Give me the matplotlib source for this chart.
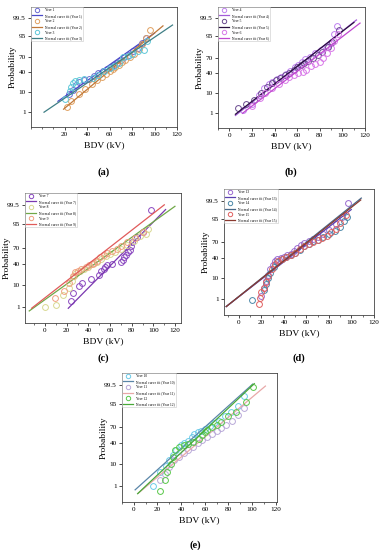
import matplotlib
matplotlib.use("Agg")
import matplotlib.pyplot as plt
from statistics import NormalDist

plt.rcParams['font.family'] = ['Liberation Serif', 'DejaVu Serif']

W, H = 387, 550
nd = NormalDist()

def z(p):
    # probability (%) -> normal quantile
    return nd.inv_cdf(p / 100.0)

# ---------------- data (BDV in kV, cumulative probability in %) ----------------
# panel (a)
y1_x = [24, 27, 30, 33, 37, 42, 46, 50, 54, 58, 61, 64, 67, 70, 73, 77, 81, 85, 89, 92]
y1_p = [8, 12, 18, 22, 26, 28, 33, 38, 43, 47, 52, 56, 60, 65, 70, 74, 80, 85, 90, 94]
y2_x = [22, 26, 33, 38, 44, 49, 53, 57, 60, 63, 65, 68, 71, 74, 78, 82, 86, 89, 92, 96]
y2_p = [2, 4, 8, 13, 20, 26, 31, 37, 42, 46, 51, 56, 61, 66, 71, 76, 83, 89, 94, 97.5]
y3_x = [20, 25, 26, 27, 29, 33, 37, 45, 50, 55, 60, 64, 68, 72, 76, 80, 85, 91, 93]
y3_p = [5, 11, 15, 21, 24, 25, 27, 30, 35, 42, 48, 53, 60, 71, 72, 76, 80, 82, 92]
# panel (b)
y4_x = [12, 20, 26, 31, 35, 38, 42, 46, 50, 54, 58, 61, 64, 67, 71, 76, 81, 86, 90, 93, 95]
y4_p = [1.5, 3, 8, 15, 20, 24, 28, 32, 37, 43, 52, 57, 62, 67, 72, 78, 82, 86, 90, 96, 98.5]
y5_x = [8, 15, 22, 28, 33, 38, 41, 45, 49, 53, 57, 60, 63, 66, 70, 74, 78, 82, 87, 91, 97]
y5_p = [2, 3, 5, 10, 16, 22, 26, 30, 35, 40, 46, 52, 56, 60, 65, 70, 75, 80, 86, 91, 97.5]
y6_x = [20, 27, 32, 38, 44, 49, 53, 57, 61, 65, 68, 72, 76, 80, 83, 86, 90, 93, 96]
y6_p = [2.5, 6, 10, 15, 20, 26, 32, 36, 40, 42, 46, 55, 58, 62, 70, 78, 85, 92, 96]
# panel (c)
y7_x = [24, 26, 31, 34, 42, 50, 52, 54, 55, 57, 62, 70, 72, 73, 75, 77, 78, 79, 80, 85, 90, 98]
y7_p = [2, 5, 9, 12, 16, 22, 27, 31, 34, 37, 40, 44, 48, 52, 56, 62, 66, 72, 78, 85, 90, 99]
y8_x = [0, 10, 17, 22, 25, 27, 29, 32, 36, 40, 44, 48, 52, 56, 60, 65, 70, 76, 82, 88, 93, 95]
y8_p = [1, 1.2, 4, 8, 14, 20, 25, 28, 31, 35, 39, 44, 49, 54, 58, 63, 68, 74, 80, 86, 88, 92]
y9_x = [9, 18, 22, 26, 28, 30, 33, 38, 41, 43, 45, 48, 51, 54, 57, 62, 66, 70, 76, 83, 90]
y9_p = [3, 6, 12, 20, 26, 28, 30, 34, 38, 40, 42, 46, 52, 56, 60, 64, 68, 72, 78, 84, 90]
# panel (d)
y13_x = [20, 22, 24, 26, 28, 30, 32, 34, 37, 40, 43, 46, 49, 52, 55, 58, 62, 66, 70, 75, 80, 86, 92, 97]
y13_p = [1.5, 4, 8, 13, 20, 27, 33, 37, 40, 42, 45, 48, 52, 58, 64, 68, 72, 75, 78, 82, 87, 92, 96, 99.3]
y14_x = [12, 22, 24, 26, 28, 31, 34, 38, 42, 46, 50, 54, 58, 62, 66, 70, 75, 80, 85, 90, 93, 96]
y14_p = [0.9, 3, 6, 10, 16, 24, 32, 38, 42, 45, 49, 55, 62, 67, 71, 74, 78, 82, 86, 90, 94, 96]
y15_x = [18, 19, 20, 22, 24, 26, 29, 32, 35, 38, 42, 46, 50, 54, 58, 62, 66, 70, 74, 78, 82, 86, 90, 95]
y15_p = [0.5, 1.2, 2.5, 4, 7, 12, 20, 28, 34, 38, 42, 46, 50, 56, 62, 66, 70, 73, 76, 80, 84, 88, 93, 97]
# panel (e)
y10_x = [16, 22, 27, 30, 33, 36, 40, 42, 46, 49, 51, 54, 57, 60, 64, 68, 72, 77, 82, 88, 93]
y10_p = [1, 5, 9, 14, 20, 28, 36, 40, 45, 52, 58, 61, 64, 67, 72, 76, 80, 86, 90, 94, 98]
y11_x = [22, 26, 30, 34, 38, 42, 46, 50, 54, 58, 62, 66, 70, 74, 78, 83, 88, 93]
y11_p = [2, 4, 8, 14, 18, 23, 28, 33, 40, 46, 52, 58, 64, 69, 74, 80, 87, 93]
y12_x = [22, 26, 28, 31, 33, 35, 38, 42, 46, 50, 55, 58, 60, 62, 66, 70, 74, 80, 86, 95, 101]
y12_p = [0.5, 2, 5, 10, 18, 28, 33, 36, 39, 43, 48, 55, 62, 66, 70, 74, 78, 86, 90, 96, 99.3]

# normal fits: mean, std, x range of drawn line
fit_mu = {1: 56.6, 2: 63.3, 3: 60.3, 4: 58.6, 5: 58.2, 6: 63.9, 7: 66.7, 8: 52.8, 9: 46.5,
          10: 49.8, 11: 59.1, 12: 53.1, 13: 50.6, 14: 48.5, 15: 49.3}
fit_sd = {1: 24.2, 2: 20.4, 3: 25.2, 4: 21.7, 5: 22.1, 6: 22.3, 7: 18.9, 8: 26.7, 9: 24.6,
          10: 19.4, 11: 20.7, 12: 18.5, 13: 23.1, 14: 22.3, 15: 22.6}
fit_rng = {1: (14, 100), 2: (19, 107.5), 3: (1.6, 116), 4: (5.4, 112.4), 5: (5.4, 110.2),
           6: (11.7, 115.6), 7: (21.5, 111.2), 8: (-14.5, 119.8), 9: (-12.3, 110),
           10: (1.1, 100.5), 11: (3.8, 111.2), 12: (3.2, 101.8), 13: (-11.3, 99.8),
           14: (-11.3, 108.7), 15: (-11.3, 108.2)}

# marker colour, line colour
colors = {1: ('#6a6ad0', '#4a4ac8'), 2: ('#e0a060', '#c07838'), 3: ('#5ec8d8', '#3f7f86'),
          4: ('#c080f0', '#a25ad8'), 5: ('#6a4a90', '#2a1040'), 6: ('#d878e8', '#c048d0'),
          7: ('#8a48c0', '#7a38b0'), 8: ('#d8d890', '#70a848'), 9: ('#f0a080', '#e05a5a'),
          10: ('#6ccbe8', '#5a86a8'), 11: ('#b8a8d8', '#e8a8a8'), 12: ('#58c848', '#48a838'),
          13: ('#9a6ad0', '#5a40b0'), 14: ('#4a88a8', '#486888'), 15: ('#e06060', '#8a3a30')}

series = {1: (y1_x, y1_p), 2: (y2_x, y2_p), 3: (y3_x, y3_p), 4: (y4_x, y4_p), 5: (y5_x, y5_p),
          6: (y6_x, y6_p), 7: (y7_x, y7_p), 8: (y8_x, y8_p), 9: (y9_x, y9_p), 10: (y10_x, y10_p),
          11: (y11_x, y11_p), 12: (y12_x, y12_p), 13: (y13_x, y13_p), 14: (y14_x, y14_p),
          15: (y15_x, y15_p)}

prob_ticks = [1, 10, 40, 70, 95, 99.5]
prob_labels = ['1', '10', '40', '70', '95', '99.5']

# panel: label, years, box in pixels (left, top, right, bottom), xlim, xticks, caption xy
panels = [
    ('(a)', [1, 2, 3], (31, 7, 177, 127), (0, 120), [20, 40, 60, 80, 100, 120], (104, 172)),
    ('(b)', [4, 5, 6], (218, 7, 365, 128), (0, 120), [0, 20, 40, 60, 80, 100, 120], (291, 172)),
    ('(c)', [7, 8, 9], (25, 193, 181, 323), (-18.4, 125.4), [0, 20, 40, 60, 80, 100, 120], (103, 358)),
    ('(d)', [13, 14, 15], (224, 189, 374, 315), (-13.3, 120), [0, 20, 40, 60, 80, 100, 120], (299, 358)),
    ('(e)', [10, 11, 12], (122, 373, 277, 502), (-4, 121), [0, 20, 40, 60, 80, 100, 120], (195, 545)),
]

fig = plt.figure(figsize=(W / 100, H / 100), dpi=100)

for label, years, (l, t, r, b), xlim, xt, (cx, cy) in panels:
    ax = fig.add_axes([l / W, 1 - b / H, (r - l) / W, (b - t) / H])
    for yr in years:
        xs, ps = series[yr]
        mc, lc = colors[yr]
        ax.plot(xs, [z(p) for p in ps], 'o', mfc='none', mec=mc, ms=4.2, mew=0.7,
                label='Year %d' % yr)
        x0, x1 = fit_rng[yr]
        mu, sd = fit_mu[yr], fit_sd[yr]
        ax.plot([x0, x1], [(x0 - mu) / sd, (x1 - mu) / sd], '-', color=lc, lw=0.9,
                label='Normal curve fit (Year %d)' % yr)
    ax.set_xlim(*xlim)
    ax.set_ylim(-3.1, 3.15)
    ax.set_xticks(xt)
    ax.set_xticks([v for v in range(-10, 121, 10)], minor=True)
    ax.set_yticks([z(p) for p in prob_ticks])
    ax.set_yticklabels(prob_labels)
    ax.tick_params(axis='both', which='major', labelsize=5.2, length=2.2, width=0.5, pad=1.5)
    ax.tick_params(axis='x', which='minor', length=1.3, width=0.4)
    for s in ax.spines.values():
        s.set_linewidth(0.6)
        s.set_color('#444444')
    ax.set_xlabel('BDV (kV)', fontsize=6.8, labelpad=3)
    ax.set_ylabel('Probability', fontsize=6.8)
    ax.yaxis.set_label_coords(-14.0 / (r - l), 0.5)
    leg = ax.legend(loc='upper left', fontsize=2.6, frameon=True, fancybox=False,
                    handlelength=2.8, handletextpad=0.7, borderpad=0.3, labelspacing=0.45,
                    borderaxespad=0.0, edgecolor='#bbbbbb', markerscale=0.75)
    leg.get_frame().set_linewidth(0.4)
    fig.text(cx / W, 1 - cy / H, label, fontsize=7.5, fontweight='bold', ha='center', va='center')

plt.savefig('out.png', dpi=100)
